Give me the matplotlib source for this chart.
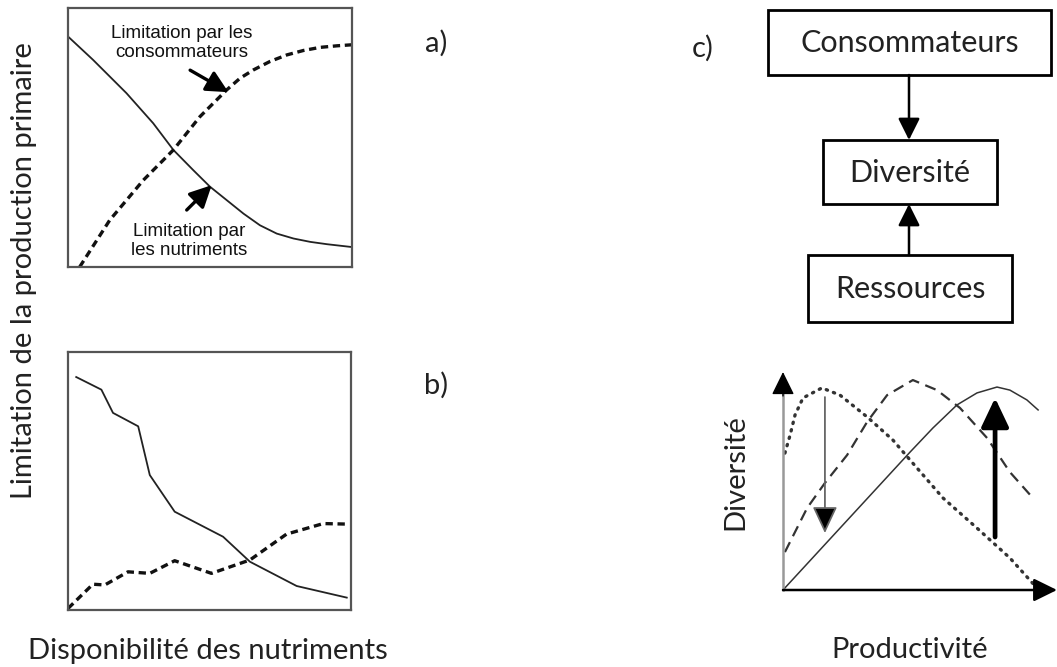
import matplotlib
matplotlib.use('Agg')
import matplotlib.pyplot as plt

plt.rcParams['font.family'] = ['Lato', 'DejaVu Sans']

# a) courbes theoriques
a_x_nutr = [0, 0.88, 2.06, 3.0, 3.71, 4.41, 5.0, 5.59, 6.18, 6.76, 7.35, 7.94, 8.53, 9.12, 10]
a_y_nutr = [8.9, 8.0, 6.71, 5.55, 4.52, 3.74, 3.1, 2.58, 2.06, 1.61, 1.29, 1.10, 0.97, 0.88, 0.77]
a_x_cons = [0.41, 1.47, 2.65, 3.71, 4.65, 5.59, 6.06, 6.53, 7.12, 7.71, 8.29, 8.88, 9.47, 10]
a_y_cons = [0, 1.81, 3.35, 4.52, 5.81, 6.84, 7.29, 7.61, 7.94, 8.19, 8.36, 8.48, 8.54, 8.58]

# b) donnees observees
b_x_nutr = [0.29, 1.18, 1.59, 2.48, 2.89, 3.77, 5.48, 6.43, 8.08, 9.85]
b_y_nutr = [9.03, 8.54, 7.64, 7.12, 5.23, 3.81, 2.84, 1.87, 0.93, 0.48]
b_x_cons = [0, 0.88, 1.3, 2.12, 2.89, 3.77, 5.07, 6.43, 7.72, 9.02, 9.85]
b_y_cons = [0.06, 1.0, 0.97, 1.48, 1.42, 1.91, 1.42, 1.94, 2.94, 3.35, 3.33]

# diversite vs productivite
d_x_dot = [0.07, 0.26, 0.44, 0.73, 1.42, 2.08, 3.07, 4.01, 4.64, 5.84, 7.08, 8.28, 9.27]
d_y_dot = [6.28, 7.11, 8.03, 8.81, 9.27, 8.94, 7.94, 6.88, 5.96, 4.22, 2.84, 1.47, 0.09]
d_x_dash = [0.07, 0.88, 1.53, 2.34, 3.07, 3.8, 4.74, 5.62, 6.46, 7.45, 8.28, 9.12]
d_y_dash = [1.74, 3.76, 4.91, 6.19, 7.71, 8.94, 9.63, 9.17, 8.35, 6.97, 5.41, 4.22]
d_x_sol = [0, 4.64, 5.47, 6.35, 7.08, 7.81, 8.28, 8.9, 9.31]
d_y_sol = [0, 6.33, 7.43, 8.49, 9.04, 9.31, 9.17, 8.72, 8.26]

W, H = 1057, 667
fig = plt.figure(figsize=(W / 100, H / 100), dpi=100)


def px_axes(x0, y0, x1, y1):
    # axes placees en pixels (haut-gauche -> bas-droite)
    return fig.add_axes([x0 / W, 1 - y1 / H, (x1 - x0) / W, (y1 - y0) / H])


def boite(ax):
    ax.set_xlim(0, 10)
    ax.set_ylim(0, 10)
    ax.set_xticks([])
    ax.set_yticks([])
    for s in ax.spines.values():
        s.set_color('#555555')
        s.set_linewidth(1.6)


def fl(lw, col='black', hl=0.6, hw=0.3, fc=None):
    return dict(arrowstyle=f'-|>,head_length={hl},head_width={hw}', color=col,
                lw=lw, mutation_scale=22, shrinkA=0, shrinkB=0,
                fc=fc if fc else col)


petit = dict(ha='center', va='center', fontsize=13.5, family=['Liberation Sans'],
             linespacing=1.15, color='#111111')

# panneau a
ax_a = px_axes(68, 8, 352, 267)
boite(ax_a)
ax_a.plot(a_x_nutr, a_y_nutr, color='#222222', lw=1.3)
ax_a.plot(a_x_cons, a_y_cons, color='#111111', lw=2.4, ls=(0, (2.2, 1.4)))
ax_a.text(4.01, 8.65, 'Limitation par les\nconsommateurs', **petit)
ax_a.text(4.26, 1.0, 'Limitation par\nles nutriments', **petit)
ax_a.annotate('', xy=(5.65, 6.75), xytext=(4.3, 7.6), arrowprops=fl(2.4, hl=0.6, hw=0.3))
ax_a.annotate('', xy=(5.06, 3.16), xytext=(4.18, 2.2), arrowprops=fl(2.4, hl=0.6, hw=0.3))

# panneau b
ax_b = px_axes(68, 352, 351, 610)
boite(ax_b)
ax_b.plot(b_x_nutr, b_y_nutr, color='#222222', lw=1.3)
ax_b.plot(b_x_cons, b_y_cons, color='#111111', lw=2.4, ls=(0, (2.2, 1.4)))

# panneau diversite / productivite
ax_d = px_axes(783, 372, 1057, 590)
ax_d.set_xlim(0, 10)
ax_d.set_ylim(0, 10)
ax_d.axis('off')
ax_d.plot(d_x_dot, d_y_dot, color='#333333', lw=2.4, ls=(0, (0.4, 1.9)),
          dash_capstyle='round')
ax_d.plot(d_x_dash, d_y_dash, color='#333333', lw=1.6, ls=(0, (5, 3)))
ax_d.plot(d_x_sol, d_y_sol, color='#333333', lw=1.1)
ax_d.plot([0, 0], [0, 9.0], color='#999999', lw=1.8, clip_on=False)
ax_d.annotate('', xy=(0, 10), xytext=(0, 8.9), arrowprops=fl(1, hl=0.65, hw=0.32))
ax_d.annotate('', xy=(10, 0), xytext=(0, 0), arrowprops=fl(1.8, hl=0.65, hw=0.32))
ax_d.annotate('', xy=(1.53, 2.61), xytext=(1.53, 8.85),
              arrowprops=fl(1.3, col='#666666', hl=0.75, hw=0.35, fc='black'))
ax_d.annotate('', xy=(7.74, 8.81), xytext=(7.74, 2.43),
              arrowprops=fl(3.4, hl=0.8, hw=0.38))

# schema c et textes
ax_c = px_axes(0, 0, W, H)
ax_c.set_xlim(0, W)
ax_c.set_ylim(H, 0)
ax_c.axis('off')
ax_c.patch.set_alpha(0)

boites = [('Consommateurs', 768, 10, 1051, 75),
          ('Diversité', 823, 140, 997, 204),
          ('Ressources', 808, 255, 1012, 322)]
for nom, x0, y0, x1, y1 in boites:
    ax_c.add_patch(plt.Rectangle((x0, y0), x1 - x0, y1 - y0, fill=False,
                                 ec='black', lw=2))
    ax_c.text((x0 + x1) / 2, (y0 + y1) / 2 + 1, nom, ha='center', va='center',
              fontsize=22, color='#222222')
ax_c.annotate('', xy=(909, 140), xytext=(909, 75), arrowprops=fl(1.8, hl=0.6, hw=0.3))
ax_c.annotate('', xy=(909, 204), xytext=(909, 255), arrowprops=fl(1.8, hl=0.6, hw=0.3))

txt = dict(ha='center', va='center', fontsize=21, color='#222222')
ax_c.text(436, 43, 'a)', **txt)
ax_c.text(436, 385, 'b)', **txt)
ax_c.text(703, 48, 'c)', **txt)
ax_c.text(24, 271, 'Limitation de la production primaire', rotation=90, **txt)
ax_c.text(208, 651, 'Disponibilité des nutriments', **txt)
ax_c.text(910, 650, 'Productivité', **txt)
ax_c.text(735, 472, 'Diversité', rotation=90, **txt)

fig.savefig('out.png', dpi=100)
